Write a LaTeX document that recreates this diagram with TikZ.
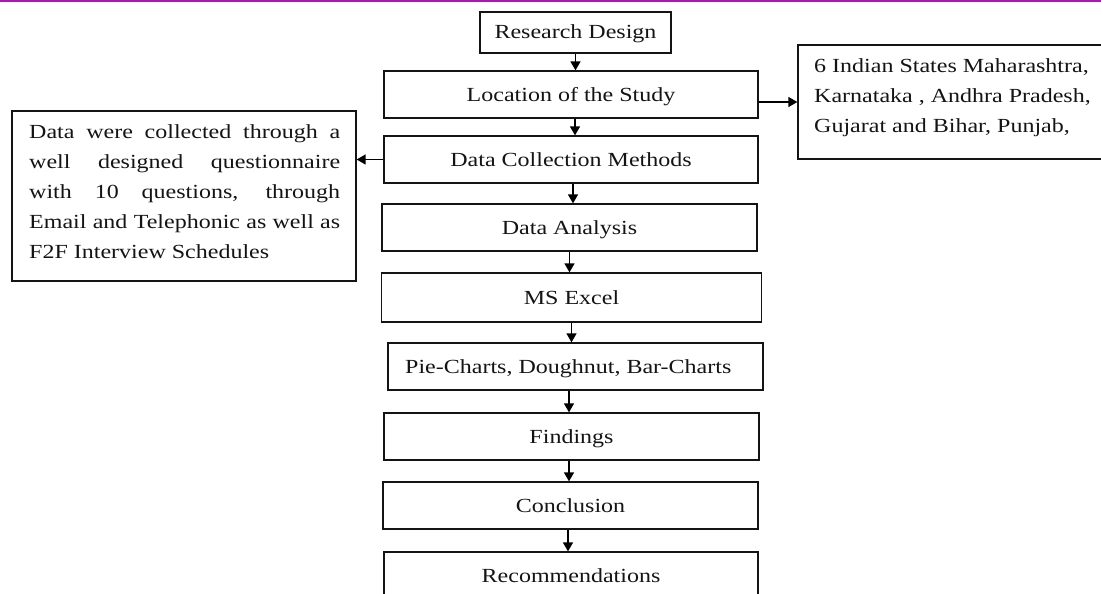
\documentclass[tikz,border=0pt]{standalone}
\usepackage{fontspec}
\setmainfont[FakeStretch=1.2]{Liberation Serif}
\usetikzlibrary{arrows.meta}
\definecolor{topline}{RGB}{162,30,170}
\definecolor{ink}{RGB}{20,20,20}
\begin{document}
\begin{tikzpicture}[x=1pt,y=-1pt,
  box/.style={draw=ink, line width=1.3pt, rectangle, inner sep=0pt,
    font=\fontsize{20}{30}\selectfont, text=ink, text height=13pt, text depth=0pt},
  txt/.style={inner sep=0pt, font=\fontsize{20}{30}\selectfont, text=ink},
  arr/.style={draw=black, line width=1.4pt, -{Triangle[length=9pt,width=10pt]}}]
\useasboundingbox (0,0) rectangle (1101,594);
\draw[line width=2.6pt, draw=topline] (0,1) -- (1101,1);

% main column
\node[box, minimum width=191pt, minimum height=41pt] (rd) at (575.5,32.5) {Research Design};
\node[box, minimum width=374pt, minimum height=47pt] (loc) at (571,94.5) {Location of the Study};
\node[box, minimum width=374pt, minimum height=47pt] (dcm) at (571,159.5) {Data Collection Methods};
\node[box, minimum width=375pt, minimum height=47pt] (da) at (569.5,227.5) {Data Analysis};
\node[box, minimum width=380pt, minimum height=49pt] (ms) at (571.5,297.5) {MS Excel};
\node[box, minimum width=375pt, minimum height=47pt] (pie) at (575.5,366.5) {};
\node[txt, anchor=base west] (pietxt) at (405,373) {Pie-Charts, Doughnut, Bar-Charts};
\node[box, minimum width=375pt, minimum height=47pt] (fin) at (571.5,436.5) {Findings};
\node[box, minimum width=375pt, minimum height=47pt] (con) at (570.5,505.5) {Conclusion};
\node[box, minimum width=374pt, minimum height=47pt] (rec) at (571,575.5) {Recommendations};

% side boxes
\node[box, minimum width=344pt, minimum height=170pt] (left) at (184,196) {};
\node[txt, anchor=base west] (lefttxt) at (29,139) {\parbox[t]{311pt}{\raggedright
\makebox[311pt][s]{Data were collected through a}\\
\makebox[311pt][s]{well designed questionnaire}\\
\makebox[311pt][s]{with 10 questions, through}\\
\makebox[311pt][s]{Email and Telephonic as well as}\\
F2F Interview Schedules}};

\node[box, minimum width=320pt, minimum height=114pt] (right) at (958,102) {};
\node[txt, anchor=base west] (righttxt) at (814,73) {\parbox[t]{300pt}{\raggedright
6 Indian States Maharashtra,\\
Karnataka , Andhra Pradesh,\\
Gujarat and Bihar, Punjab,}};

% connectors
\draw[arr] (rd.south) -- (rd.south |- loc.north);
\draw[arr] ([xshift=4pt]loc.south) -- ([xshift=4pt]loc.south |- dcm.north);
\draw[arr] ([xshift=2pt]dcm.south) -- ([xshift=2pt]dcm.south |- da.north);
\draw[arr] (da.south) -- (da.south |- ms.north);
\draw[arr] (ms.south) -- (ms.south |- pie.north);
\draw[arr] ([xshift=-6.5pt]pie.south) -- ([xshift=-6.5pt]pie.south |- fin.north);
\draw[arr] ([xshift=-2.5pt]fin.south) -- ([xshift=-2.5pt]fin.south |- con.north);
\draw[arr] ([xshift=-2.5pt]con.south) -- ([xshift=-2.5pt]con.south |- rec.north);
\draw[arr] (loc.east |- right.west) -- (right.west);
\draw[arr] (dcm.west) -- (dcm.west -| left.east);
\end{tikzpicture}
\end{document}
